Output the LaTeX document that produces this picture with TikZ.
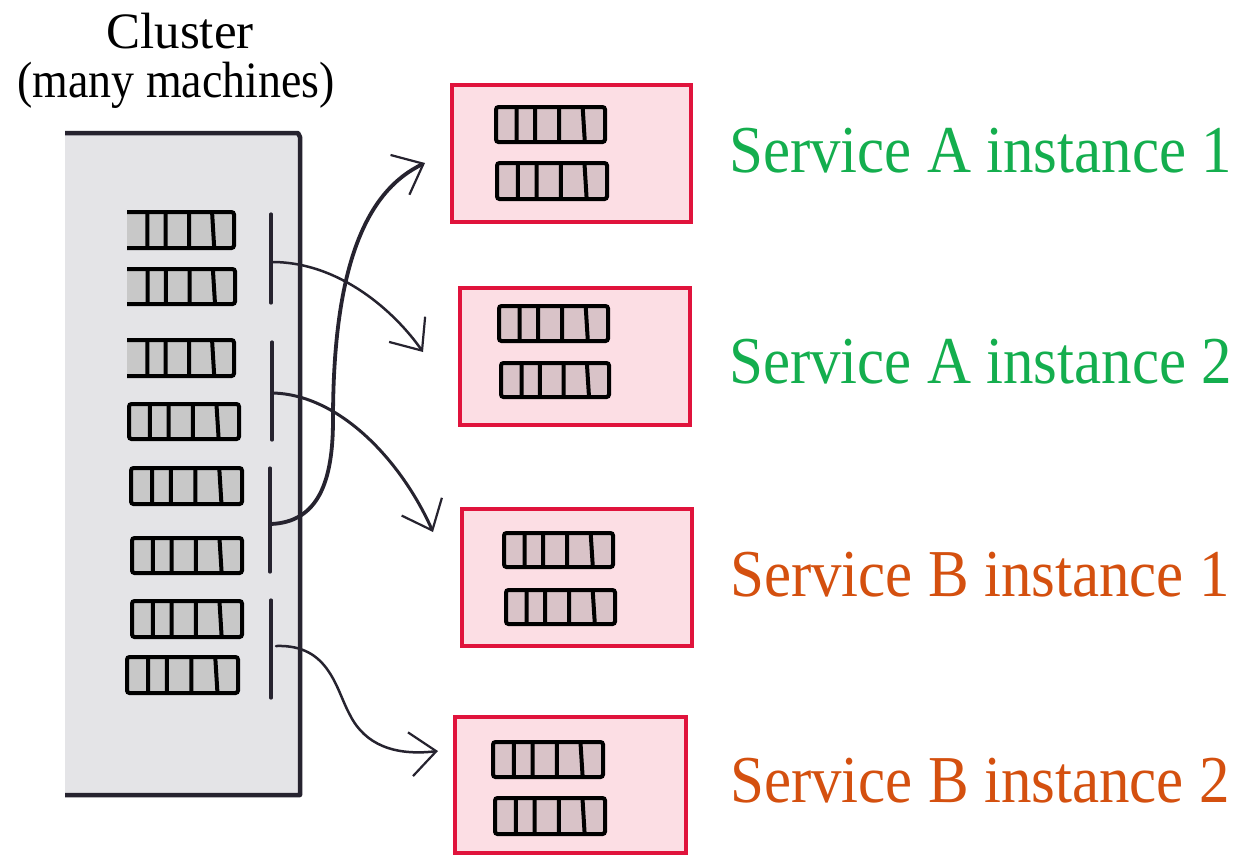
\documentclass[tikz,border=0pt]{standalone}
\usepackage{fontspec}
\usepackage{graphicx}
\setmainfont{Liberation Serif}
\usetikzlibrary{arrows.meta}
\definecolor{ink}{HTML}{26232F}
\definecolor{clusterfill}{HTML}{E4E4E7}
\definecolor{rackgray}{HTML}{C8C8C8}
\definecolor{rackpink}{HTML}{D9C3C8}
\definecolor{svcred}{HTML}{E0133C}
\definecolor{svcfill}{HTML}{FCDEE4}
\definecolor{agreen}{HTML}{14AE4E}
\definecolor{borange}{HTML}{D4500F}
\newcommand\rackbox[5]{%
  \pgfmathsetmacro\rw{#3-#1}%
  \filldraw[rackline,fill=#5] (#1,#2) rectangle (#3,#4);
  \draw[rackline] ({#1+0.19*\rw},#2) -- ({#1+0.19*\rw},#4)
    ({#1+0.36*\rw},#2) -- ({#1+0.36*\rw},#4)
    ({#1+0.58*\rw},#2) -- ({#1+0.58*\rw},#4)
    ({#1+0.795*\rw},#2) -- ({#1+0.815*\rw},#4);
}
\newcommand\rackopen[5]{%
  \pgfmathsetmacro\rw{#3-#1}%
  \fill[#5] (#1,#2) rectangle (#3,#4);
  \draw[rackline] (#1,#2) -- (#3,#2) -- (#3,#4) -- (#1,#4);
  \draw[rackline] ({#1+0.19*\rw},#2) -- ({#1+0.19*\rw},#4)
    ({#1+0.36*\rw},#2) -- ({#1+0.36*\rw},#4)
    ({#1+0.58*\rw},#2) -- ({#1+0.58*\rw},#4)
    ({#1+0.795*\rw},#2) -- ({#1+0.815*\rw},#4);
}
\begin{document}
\begin{tikzpicture}[x=1pt,y=-1pt,
  rackline/.style={draw=black,line width=4pt,rounded corners=2.5pt},
  bracket/.style={draw=ink,line width=3.2pt,line cap=round},
  svc/.style={rectangle,draw=svcred,fill=svcfill,line width=4pt,inner sep=0pt},
  conn/.style={draw=ink,line cap=round,-{Straight Barb[length=26pt,width=44pt,line width=2.2pt]}},
  lbl/.style={anchor=base west,inner sep=0pt,font=\fontsize{67}{70}\selectfont},
  ttl/.style={anchor=base,inner sep=0pt,font=\fontsize{51}{56}\selectfont,text=black}]
\fill[white] (0,0) rectangle (1255,855);
\useasboundingbox (0,0) rectangle (1255,855);

% cluster
\fill[clusterfill] (65,133) rectangle (300,795);
\draw[ink,line width=4.5pt,line join=round] (65,133) -- (298,133) -- (300,137) -- (300,795) -- (65,795);
\node[ttl] (t1) at (180,48) {Cluster};
\node[ttl] (t2) at (176,97) {\scalebox{0.9}[1]{(many machines)}};

% machines in cluster
\rackopen{127}{212}{234}{248}{rackgray}
\rackopen{127}{269}{235}{304}{rackgray}
\rackopen{127}{340}{234}{376}{rackgray}
\rackbox{129}{404}{239}{439}{rackgray}
\rackbox{131}{468}{242}{504}{rackgray}
\rackbox{132}{538}{242}{573}{rackgray}
\rackbox{132}{601}{242}{637}{rackgray}
\rackbox{127}{657}{238}{693}{rackgray}

% brackets
\draw[bracket] (271,214) -- (271,303);
\draw[bracket] (272,342) -- (272,440);
\draw[bracket] (270,468) -- (270,572);
\draw[bracket] (271,600) -- (271,698);
\coordinate (b1) at (272,262);
\coordinate (b2) at (272,393);
\coordinate (b3) at (271,524);
\coordinate (b4) at (276,646);

% services
\node[svc,minimum width=239pt,minimum height=137pt] (sA1) at (571.5,153.5) {};
\node[svc,minimum width=230pt,minimum height=137pt] (sA2) at (575,356.5) {};
\node[svc,minimum width=230pt,minimum height=137pt] (sB1) at (577,577.5) {};
\node[svc,minimum width=231pt,minimum height=136pt] (sB2) at (570.5,785) {};

\rackbox{496}{107}{605}{142}{rackpink}
\rackbox{497}{163}{607}{199}{rackpink}
\rackbox{499}{306}{608}{341}{rackpink}
\rackbox{501}{363}{609}{397}{rackpink}
\rackbox{504}{533}{613}{567}{rackpink}
\rackbox{506}{590}{615}{624}{rackpink}
\rackbox{493}{742}{603}{777}{rackpink}
\rackbox{495}{798}{605}{834}{rackpink}

% labels
\node[lbl,text=agreen] (lA1) at (729,172) {\scalebox{0.91}[1]{Service A instance 1}};
\node[lbl,text=agreen] (lA2) at (729,383) {\scalebox{0.91}[1]{Service A instance 2}};
\node[lbl,text=borange] (lB1) at (730,596) {\scalebox{0.91}[1]{Service B instance 1}};
\node[lbl,text=borange] (lB2) at (730,802) {\scalebox{0.91}[1]{Service B instance 2}};

% connectors
\draw[conn,line width=2.5pt] (b1) .. controls (340,262) and (395,312) .. ([shift={(-35,-4.5)}]sA2.west);
\draw[conn,line width=3.8pt] (b3) .. controls (318,522) and (333,482) .. (333,420)
   .. controls (333,262) and (368,190) .. ([shift={(-25,9.5)}]sA1.west);
\draw[conn,line width=3pt] (b2) .. controls (340,394) and (402,462) .. ([shift={(-27,-45.5)}]sB1.west);
\draw[conn,line width=2.5pt] (b4) .. controls (330,644) and (336,690) .. (350,715)
   .. controls (365,745) and (395,756) .. ([shift={(-15,-34)}]sB2.west);
\end{tikzpicture}
\end{document}
